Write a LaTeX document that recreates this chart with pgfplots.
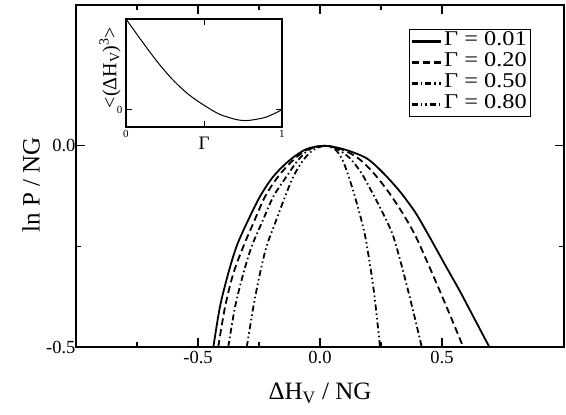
\documentclass[border=0pt]{standalone}
\usepackage{fontspec}
\setmainfont{Liberation Serif}
\newfontfamily\legfont[FakeStretch=1.16]{Liberation Serif}
\usepackage{pgfplots}
\pgfplotsset{compat=1.18}
\tikzset{
  g1/.style={black,line width=1.8pt,solid},
  g2/.style={black,line width=1.8pt,dash pattern=on 7pt off 4pt},
  g5/.style={black,line width=1.8pt,dash pattern=on 6pt off 3pt on 1.5pt off 3pt},
  g8/.style={black,line width=1.8pt,dash pattern=on 6pt off 3pt on 1.5pt off 3pt on 1.5pt off 3pt},
}
\begin{document}
\begin{tikzpicture}
\begin{axis}[
  width=488pt, height=342pt, scale only axis,
  xmin=-1, xmax=1, ymin=-0.5, ymax=0.35,
  xtick={-0.5,0,0.5}, minor xtick={-0.75,-0.25,0.25},
  ytick={-0.5,0}, minor ytick={-0.25},
  tick align=inside, major tick length=9pt, minor tick length=5pt,
  every tick/.style={black,line width=1.1pt},
  axis line style={line width=1.4pt},
  tick label style={font=\fontsize{18.5}{20}\selectfont},
  xticklabel style={yshift=-1pt},
  yticklabel style={xshift=3pt},
  /pgf/number format/.cd, fixed, fixed zerofill, precision=1, assume math mode=true,
  /pgfplots/.cd,
  xlabel={ΔH\textsubscript{V} / NG}, ylabel={ln P / NG},
  every axis x label/.style={at={(axis description cs:0.5,0)}, yshift=-46pt, anchor=center},
  every axis y label/.style={at={(axis description cs:0,0.474)}, xshift=-45pt, rotate=90, anchor=center},
  label style={font=\fontsize{25}{28}\selectfont},
  legend style={at={(0.682,0.930)}, anchor=north west, draw=black, line width=1.1pt,
    font=\legfont\fontsize{21}{21}\selectfont, inner xsep=1pt, inner ysep=1.5pt,
    row sep=0pt, cells={anchor=west},
    nodes={inner ysep=0pt, inner xsep=2.5pt, text height=15pt, text depth=6pt}},
  legend image code/.code={\draw[#1, line width=2.3pt] (0pt,0pt) -- (29pt,0pt);},
]
\addplot[g1, smooth] coordinates {
(-0.437,-0.5) (-0.41,-0.40) (-0.376,-0.317) (-0.342,-0.25) (-0.30,-0.192)
(-0.246,-0.126) (-0.191,-0.076) (-0.123,-0.035) (-0.055,-0.008) (0.02,0)
(0.10,-0.009) (0.191,-0.031) (0.26,-0.068) (0.328,-0.114) (0.39,-0.165)
(0.444,-0.221) (0.51,-0.293) (0.574,-0.362) (0.634,-0.431) (0.694,-0.5)};
\addlegendentry{Γ = 0.01}
\addplot[g2, smooth] coordinates {
(-0.417,-0.5) (-0.389,-0.40) (-0.355,-0.317) (-0.314,-0.25) (-0.273,-0.192)
(-0.225,-0.126) (-0.171,-0.076) (-0.109,-0.035) (-0.048,-0.008) (0.02,0)
(0.09,-0.009) (0.157,-0.031) (0.22,-0.068) (0.28,-0.114) (0.336,-0.165)
(0.389,-0.221) (0.442,-0.292) (0.492,-0.362) (0.54,-0.431) (0.587,-0.5)};
\addlegendentry{Γ = 0.20}
\addplot[g5, smooth] coordinates {
(-0.376,-0.5) (-0.348,-0.40) (-0.314,-0.317) (-0.28,-0.25) (-0.239,-0.192)
(-0.191,-0.126) (-0.137,-0.076) (-0.089,-0.035) (-0.041,-0.008) (0.02,0)
(0.07,-0.008) (0.123,-0.031) (0.17,-0.068) (0.212,-0.114) (0.256,-0.165)
(0.298,-0.221) (0.332,-0.292) (0.362,-0.362) (0.39,-0.431) (0.417,-0.5)};
\addlegendentry{Γ = 0.50}
\addplot[g8, smooth] coordinates {
(-0.30,-0.5) (-0.273,-0.40) (-0.246,-0.317) (-0.219,-0.25) (-0.184,-0.192)
(-0.143,-0.126) (-0.109,-0.076) (-0.068,-0.035) (-0.027,-0.01) (0.02,0)
(0.06,-0.008) (0.089,-0.031) (0.113,-0.068) (0.137,-0.114) (0.161,-0.165)
(0.184,-0.221) (0.204,-0.292) (0.221,-0.362) (0.234,-0.431) (0.246,-0.5)};
\addlegendentry{Γ = 0.80}
\end{axis}
\begin{axis}[
  at={(50pt,220pt)}, anchor=south west,
  width=156pt, height=108pt, scale only axis,
  xmin=0, xmax=1, ymin=-0.19, ymax=1,
  xtick={0,0.5,1}, xticklabels={0,{},1},
  ytick={0}, yticklabels={0},
  tick align=inside, major tick length=6pt,
  every tick/.style={black,line width=0.9pt},
  axis line style={line width=1.1pt},
  tick label style={font=\fontsize{11}{12}\selectfont},
  xlabel={Γ}, ylabel={\textless(ΔH\textsubscript{V})\textsuperscript{3}\textgreater},
  every axis x label/.style={at={(axis description cs:0.5,0)}, yshift=-16pt, anchor=center},
  every axis y label/.style={at={(axis description cs:0,0.55)}, xshift=-16pt, rotate=90, anchor=center},
  xlabel style={font=\fontsize{19}{20}\selectfont},
  ylabel style={font=\fontsize{20}{21}\selectfont},
]
\addplot[black, line width=1pt, smooth] coordinates {
(0,1.0) (0.1,0.76) (0.2,0.53) (0.3,0.33) (0.4,0.17) (0.5,0.05)
(0.6,-0.05) (0.7,-0.105) (0.75,-0.118) (0.8,-0.115) (0.9,-0.08) (1.0,0.0)};
\end{axis}
\path (-76pt,-68pt) rectangle (490pt,347pt);
\end{tikzpicture}
\end{document}
